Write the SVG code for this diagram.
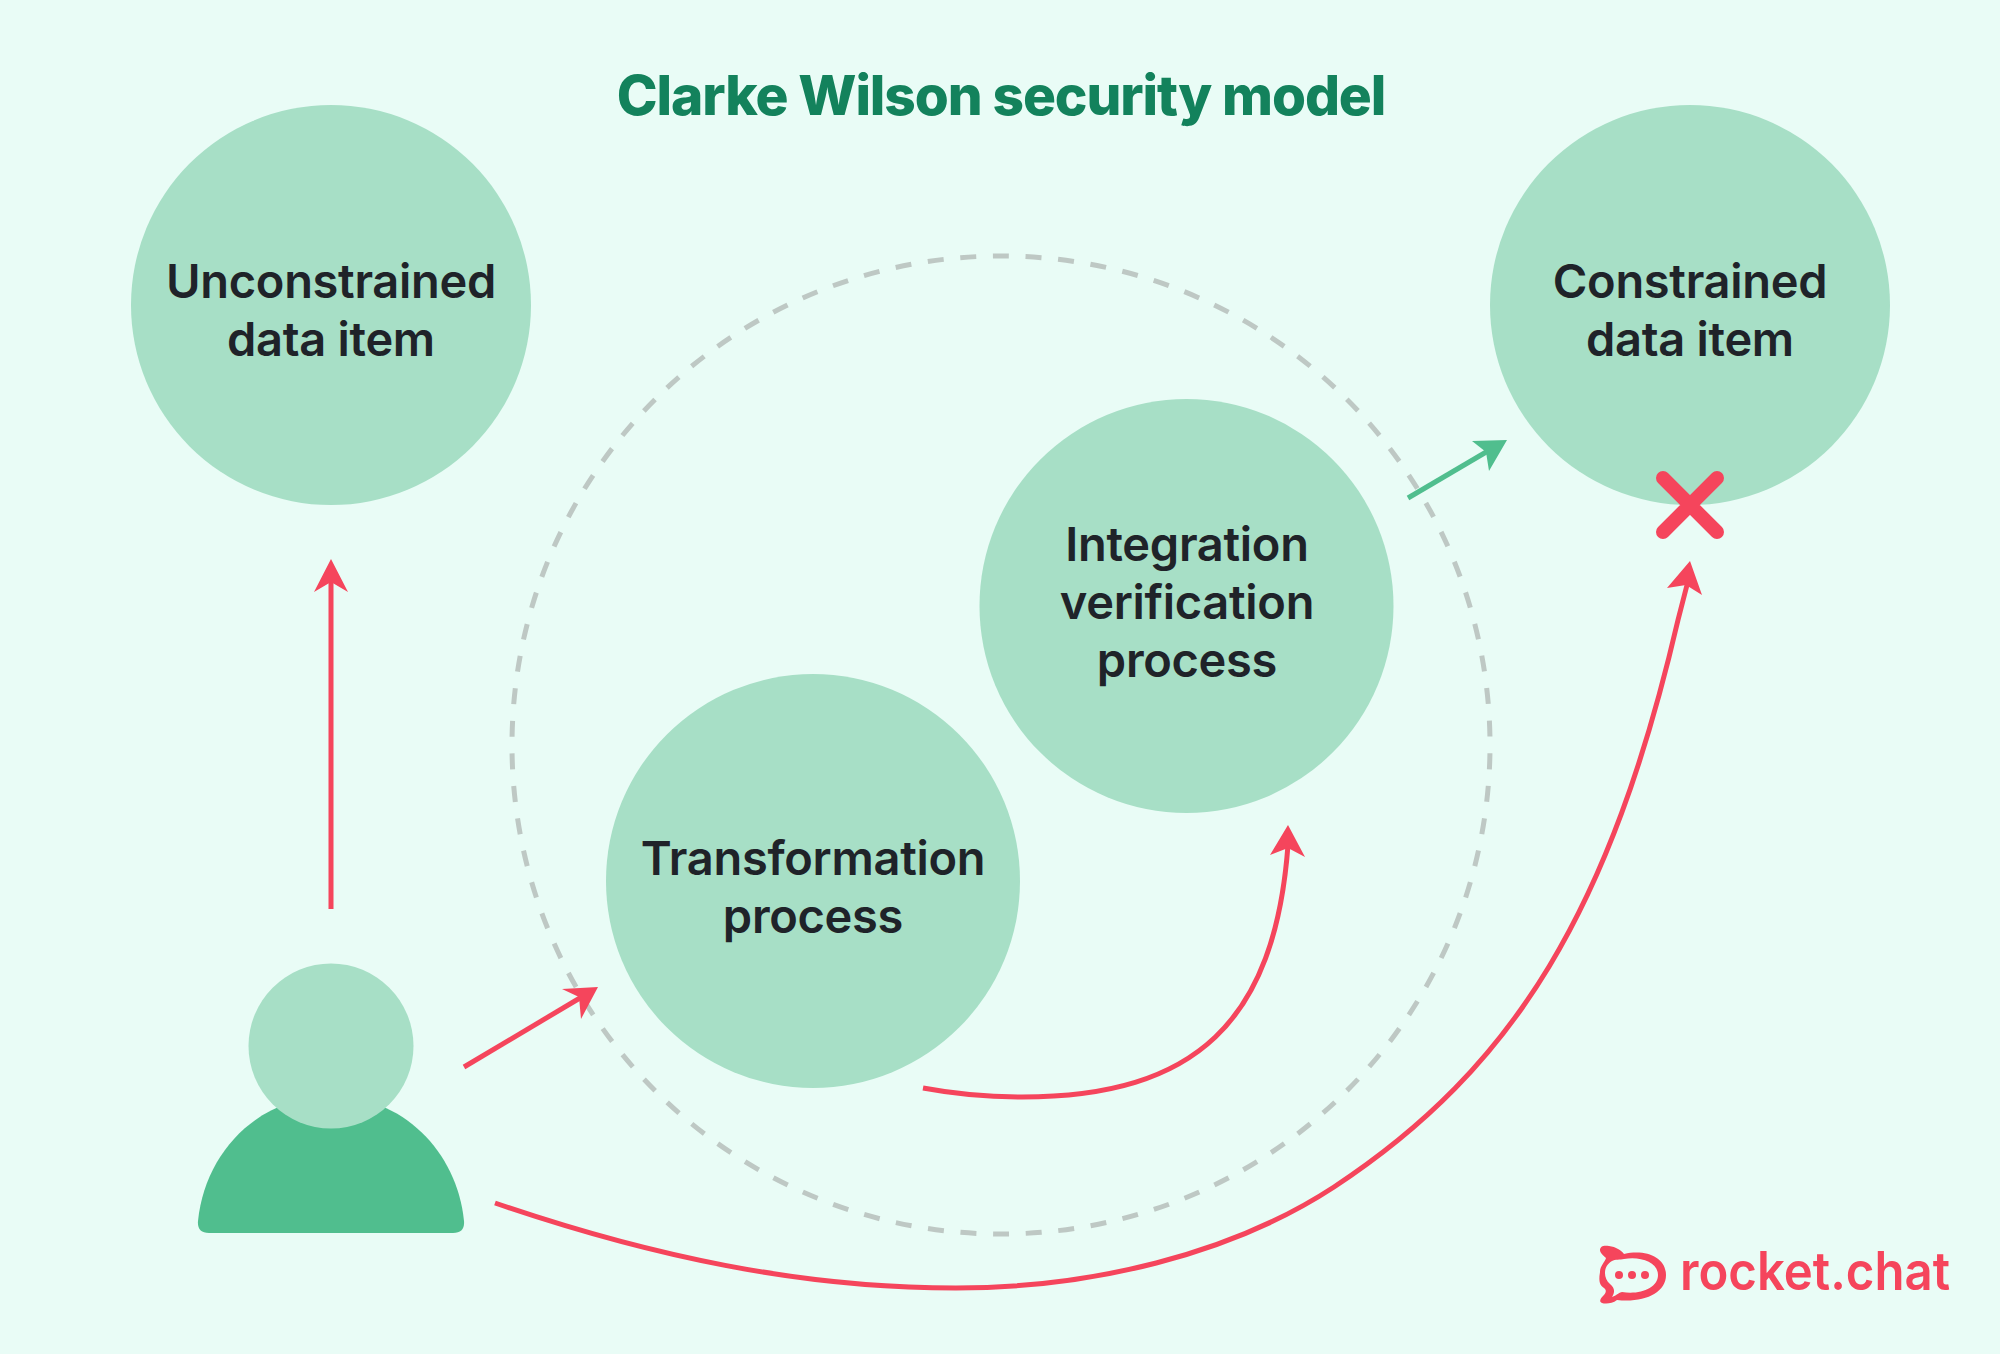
<svg xmlns="http://www.w3.org/2000/svg" width="2000" height="1354" viewBox="0 0 2000 1354">
<style>
.n{fill:#a7dfc6}
.t{font-family:Inter,"Liberation Sans",sans-serif;font-weight:600;font-size:47px;letter-spacing:-.3px;fill:#1f2329;text-anchor:middle}
.r{fill:none;stroke:#f5455c;stroke-width:5}
.rh{fill:#f5455c}
</style>
<rect width="2000" height="1354" fill="#e9fcf6"/>
<text id="title" x="1001" y="115" text-anchor="middle" style="font-family:Inter,'Liberation Sans',sans-serif;font-weight:800;font-size:55px;letter-spacing:-1.1px;fill:#13825c">Clarke Wilson security model</text>
<circle id="boundary" cx="1001" cy="745" r="489" fill="none" stroke="#bec8c4" stroke-width="5" stroke-dasharray="16 16.68" stroke-dashoffset="-8.3"/>
<g id="unconstrained"><circle class="n" cx="331" cy="305" r="200"/><text class="t" x="331" y="298">Unconstrained</text><text class="t" x="331" y="356">data item</text></g>
<g id="constrained"><circle class="n" cx="1690" cy="305" r="200"/><text class="t" x="1690" y="298">Constrained</text><text class="t" x="1690" y="356">data item</text></g>
<g id="integration"><circle class="n" cx="1186.500" cy="606" r="207"/><text class="t" x="1187" y="561">Integration</text><text class="t" x="1187" y="619">verification</text><text class="t" x="1187" y="677">process</text></g>
<g id="transformation"><circle class="n" cx="813" cy="881" r="207"/><text class="t" x="813" y="875">Transformation</text><text class="t" x="813" y="933">process</text></g>
<g id="user"><path d="M198 1221C205 1151 260 1096 331 1096C402 1096 457 1151 464 1221Q465 1233 453 1233H209Q197 1233 198 1221Z" fill="#50be8e"/><circle class="n" cx="331" cy="1046" r="82.500"/></g>
<g id="connectors">
<path class="r" d="M331 909V580"/><path class="rh" d="M331 559L348 592L331 582L314 592Z"/>
<path class="r" d="M464 1067L585 995"/><path class="rh" d="M598 987L581 1019L579 997L562 989Z"/>
<path class="r" d="M923 1088C955 1094 990 1097 1022 1097C1196 1097 1275 1021 1288 845"/><path class="rh" d="M1288 825L1305 857L1288 848L1270 855Z"/>
<path class="r" d="M495 1203C650 1256 800 1288 956 1288C1090 1288 1230 1255 1334 1187C1516 1067 1611 908 1678 620L1687 585"/><path class="rh" d="M1690 561L1702 595L1686 585L1667 588Z"/>
<path fill="none" stroke="#50be8e" stroke-width="5" d="M1408 498L1493 448"/><path fill="#50be8e" d="M1507 440L1489 471L1486 452L1472 441Z"/>
</g>
<path id="deny" d="M1663 478L1717 532M1717 478L1663 532" stroke="#f5455c" stroke-width="14" stroke-linecap="round"/>
<g id="logo">
<path fill-rule="evenodd" fill="#f5455c" d="M1600 1250C1600 1246 1604 1245 1609 1246C1616 1247 1621 1250 1624 1254C1647 1249 1666 1258 1666 1275C1666 1293 1644 1303 1617 1300C1612 1304 1605 1304 1602 1303C1599 1302 1600 1299 1603 1296C1606 1293 1607 1290 1604 1288C1597 1284 1600 1274 1600 1272C1600 1266 1605 1262 1606 1258C1603 1255 1600 1253 1600 1250ZM1612 1261C1603 1266 1603 1278 1610 1284C1615 1288 1615 1292 1612 1297C1617 1295 1620 1292 1622 1292C1640 1295 1658 1288 1658 1275C1658 1262 1640 1256 1624 1259C1620 1260 1615 1259 1612 1261Z"/>
<circle class="rh" cx="1619" cy="1275" r="4"/><circle class="rh" cx="1632" cy="1275" r="4"/><circle class="rh" cx="1645" cy="1275" r="4"/>
<text x="1680" y="1290" textLength="270" lengthAdjust="spacingAndGlyphs" style="font-family:Inter,'Liberation Sans',sans-serif;font-weight:600;font-size:53px;fill:#f5455c">rocket.chat</text>
</g>
</svg>
